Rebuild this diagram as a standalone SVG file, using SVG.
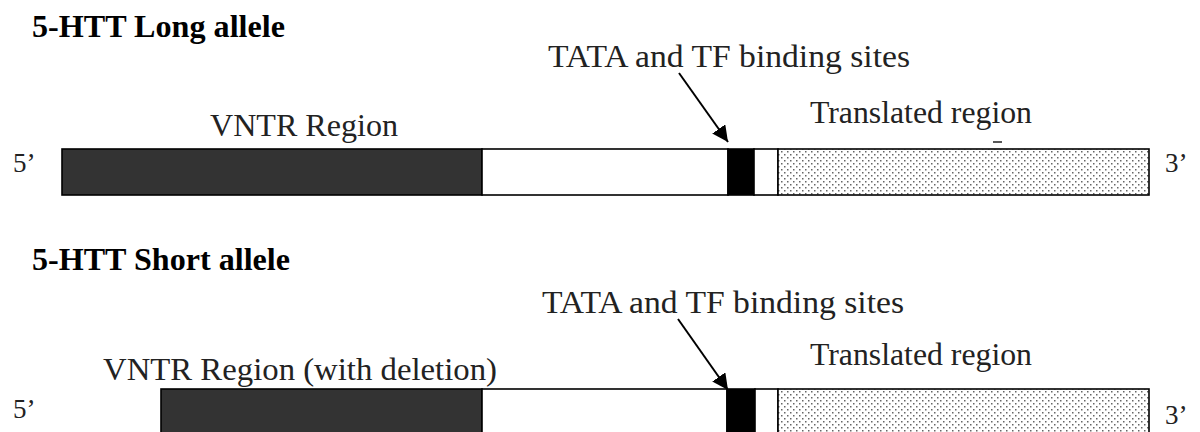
<svg xmlns="http://www.w3.org/2000/svg" width="1200" height="432" viewBox="0 0 1200 432">
<style>
.title{font-family:"Liberation Serif","Times New Roman",serif;font-weight:bold;font-size:31px;fill:#000}
.lbl{font-family:"Liberation Serif","Times New Roman",serif;font-size:31px;fill:#222}
.end{font-family:"Liberation Serif","Times New Roman",serif;font-size:27px;fill:#222}
.seg{stroke:#000;stroke-width:1.6}
.vntr{fill:#333}
.tata{fill:#000}
.blank{fill:#fff}
.trans{fill:url(#dots)}
.conn{stroke:#000;stroke-width:2;fill:none}
</style>
<defs>
<pattern id="dots" width="6" height="6" patternUnits="userSpaceOnUse">
<rect width="6" height="6" fill="#fff"/>
<rect x="1" y="1" width="1.5" height="1.5" fill="#666"/>
<rect x="4" y="4" width="1.5" height="1.5" fill="#666"/>
</pattern>
<marker id="arrow" viewBox="0 0 10 10" refX="10" refY="5" markerWidth="8" markerHeight="8" markerUnits="strokeWidth" orient="auto">
<path d="M0,0 L10,5 L0,10 Z" fill="#000"/>
</marker>
</defs>
<rect width="1200" height="432" fill="#fff"/>

<g id="long-allele">
<text class="title" x="32" y="37" textLength="253" lengthAdjust="spacingAndGlyphs">5-HTT Long allele</text>
<text class="end" x="13" y="172">5’</text>
<text class="end" x="1165" y="172">3’</text>
<g id="long-vntr">
<rect class="seg vntr" x="62" y="149" width="420" height="46"/>
<text class="lbl" x="210" y="136" textLength="188" lengthAdjust="spacingAndGlyphs">VNTR Region</text>
</g>
<rect class="seg blank" x="482" y="149" width="246" height="46"/>
<g id="long-tata">
<rect class="seg tata" x="728" y="149" width="26" height="46"/>
<text class="lbl" x="548" y="67" textLength="362" lengthAdjust="spacingAndGlyphs">TATA and TF binding sites</text>
</g>
<rect class="seg blank" x="754" y="149" width="24" height="46"/>
<g id="long-translated">
<rect class="seg trans" x="778" y="149" width="371" height="46"/>
<text class="lbl" x="810" y="123" textLength="222" lengthAdjust="spacingAndGlyphs">Translated region</text>
<line x1="993" y1="142" x2="1002" y2="142" stroke="#222" stroke-width="1.5"/>
</g>
</g>

<g id="short-allele">
<text class="title" x="32" y="270" textLength="258" lengthAdjust="spacingAndGlyphs">5-HTT Short allele</text>
<text class="end" x="13" y="418">5’</text>
<text class="end" x="1165" y="424">3’</text>
<g id="short-vntr">
<rect class="seg vntr" x="161" y="389" width="321" height="60"/>
<text class="lbl" x="103" y="380" textLength="394" lengthAdjust="spacingAndGlyphs">VNTR Region (with deletion)</text>
</g>
<rect class="seg blank" x="482" y="389" width="245" height="60"/>
<g id="short-tata">
<rect class="seg tata" x="727" y="389" width="28" height="60"/>
<text class="lbl" x="542" y="313" textLength="362" lengthAdjust="spacingAndGlyphs">TATA and TF binding sites</text>
</g>
<rect class="seg blank" x="755" y="389" width="23" height="60"/>
<g id="short-translated">
<rect class="seg trans" x="778" y="389" width="371" height="60"/>
<text class="lbl" x="810" y="365" textLength="222" lengthAdjust="spacingAndGlyphs">Translated region</text>
</g>
</g>

<g id="connectors">
<line class="conn" x1="679" y1="73" x2="728" y2="142" marker-end="url(#arrow)"/>
<line class="conn" x1="678" y1="319" x2="728" y2="390" marker-end="url(#arrow)"/>
</g>
</svg>
